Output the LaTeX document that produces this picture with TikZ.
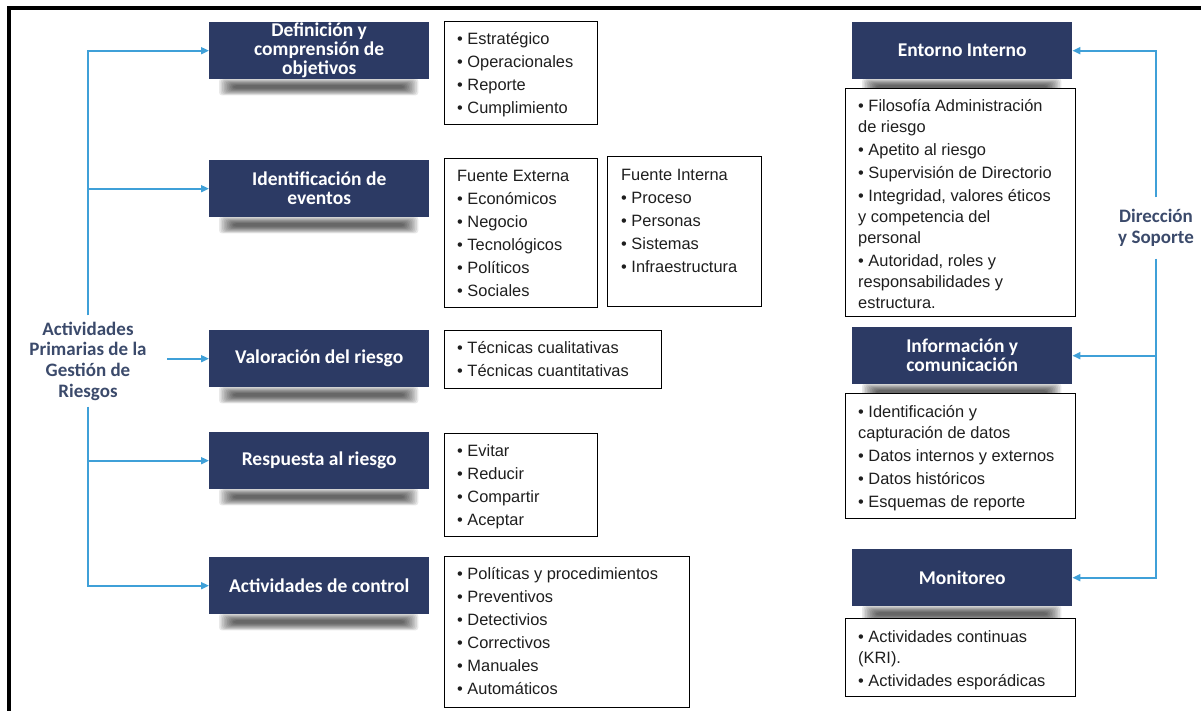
\documentclass[tikz,border=0pt]{standalone}
\usepackage{fontspec}
\setmainfont{Liberation Sans}
\newfontfamily\hdfont{Carlito}
\usetikzlibrary{arrows.meta,calc}
\pgfdeclarelayer{background}
\pgfsetlayers{background,main}
\definecolor{navy}{HTML}{2C3A64}
\definecolor{conn}{HTML}{3FA0D8}
\definecolor{labc}{HTML}{3B4A6B}
\definecolor{txt}{HTML}{1E1E1E}
\newcommand{\fstrut}{\rule{0pt}{15pt}}
\begin{document}
\begin{tikzpicture}[x=1pt,y=-1pt,
 hdr/.style={fill=navy, text=white, font=\hdfont\bfseries\fontsize{19.5}{19}\selectfont, align=center, minimum width=220pt, minimum height=57pt, inner sep=0pt, anchor=north west},
 lbox/.style={draw=black, line width=1.4pt, fill=white, anchor=north west, inner sep=0pt},
 ltxt/.style={anchor=north west, inner sep=0pt, align=left, text=txt, font=\fontsize{16.4}{23}\selectfont},
 rtxt/.style={anchor=north west, inner sep=0pt, align=left, text=txt, font=\fontsize{16.4}{21}\selectfont},
 lab/.style={text=labc, font=\hdfont\bfseries\fontsize{19}{20.7}\selectfont, align=center},
 arr/.style={draw=conn, line width=1.8pt, -{Triangle[length=8pt,width=7pt]}},
 frame/.style={draw=black, line width=4pt}
]
\useasboundingbox (0,0) rectangle (1201,711);
\draw[frame] (1201,8.5) -- (8.5,8.5) -- (8.5,711);

% dark header boxes
\node[hdr] (d1) at (209,22) {Definición y\\comprensión de\\objetivos};
\node[hdr] (d2) at (209,160) {Identificación de\\eventos};
\node[hdr] (d3) at (209,330) {Valoración del riesgo};
\node[hdr] (d4) at (209,432) {Respuesta al riesgo};
\node[hdr] (d5) at (209,557) {Actividades de control};
\node[hdr] (e1) at (852,22) {Entorno Interno};
\node[hdr] (e2) at (852,327) {Información y\\comunicación};
\node[hdr] (e3) at (852,549) {Monitoreo};

% soft shadows under the header boxes
\begin{pgfonlayer}{background}
\foreach \n in {d1,d2,d3,d4,d5,e1,e2,e3}{
 \foreach \k in {0,...,9}{
  \fill[black, opacity=0.085, rounded corners=3pt] ($(\n.south west)+(10+1.6*\k,-1+0.75*\k)$) rectangle ($(\n.south east)+(-11-1.6*\k,16-0.75*\k)$);
 }}
\end{pgfonlayer}

% list boxes
\node[lbox, minimum width=153pt, minimum height=103pt] (l1) at (444,21) {};
\node[lbox, minimum width=153pt, minimum height=149pt] (l2) at (444,158) {};
\node[lbox, minimum width=154pt, minimum height=150pt] (l2b) at (607,156) {};
\node[lbox, minimum width=217pt, minimum height=58pt] (l3) at (444,330) {};
\node[lbox, minimum width=153pt, minimum height=103pt] (l4) at (444,433) {};
\node[lbox, minimum width=245pt, minimum height=151pt] (l5) at (444,556) {};
\node[lbox, minimum width=230pt, minimum height=228pt] (r1) at (845,88) {};
\node[lbox, minimum width=230pt, minimum height=125pt] (r2) at (845,393) {};
\node[lbox, minimum width=230pt, minimum height=78pt] (r3) at (845,618) {};

% list texts
\node[ltxt] (t1) at ($(l1.north west)+(13,8)$) {\fstrut• Estratégico\\• Operacionales\\• Reporte\\• Cumplimiento};
\node[ltxt] (t2) at ($(l2.north west)+(13,8)$) {\fstrut Fuente Externa\\• Económicos\\• Negocio\\• Tecnológicos\\• Políticos\\• Sociales};
\node[ltxt] (t2b) at ($(l2b.north west)+(14,9)$) {\fstrut Fuente Interna\\• Proceso\\• Personas\\• Sistemas\\• Infraestructura};
\node[ltxt] (t3) at ($(l3.north west)+(13,8)$) {\fstrut• Técnicas cualitativas\\• Técnicas cuantitativas};
\node[ltxt] (t4) at ($(l4.north west)+(13,8)$) {\fstrut• Evitar\\• Reducir\\• Compartir\\• Aceptar};
\node[ltxt] (t5) at ($(l5.north west)+(13,8)$) {\fstrut• Políticas y procedimientos\\• Preventivos\\• Detectivios\\• Correctivos\\• Manuales\\• Automáticos};
\node[rtxt] (s1) at ($(r1.north west)+(13,8)$) {\fstrut• Filosofía Administración\\de riesgo\\[2pt]• Apetito al riesgo\\[2pt]• Supervisión de Directorio\\[2pt]• Integridad, valores éticos\\y competencia del\\personal\\[2pt]• Autoridad, roles y\\responsabilidades y\\estructura.};
\node[rtxt] (s2) at ($(r2.north west)+(13,9)$) {\fstrut• Identificación y\\capturación de datos\\[2pt]• Datos internos y externos\\[2pt]• Datos históricos\\[2pt]• Esquemas de reporte};
\node[rtxt] (s3) at ($(r3.north west)+(13,9)$) {\fstrut• Actividades continuas\\(KRI).\\[2pt]• Actividades esporádicas};

% labels
\node[lab, inner sep=6pt] (lab) at (88,361) {Actividades\\Primarias de la\\Gestión de\\Riesgos};
\node[lab, inner sep=12pt] (ds) at (1156,228) {Dirección\\y Soporte};

% connectors
\draw[arr] (lab.north) -- (lab.north |- d1.west) -- (d1.west);
\draw[arr] (lab.north |- d2.west) -- (d2.west);
\draw[arr, shorten <=14.5pt] (lab.east |- d3.west) -- (d3.west);
\draw[arr] (lab.south |- d4.west) -- (d4.west);
\draw[arr] (lab.south) -- (lab.south |- d5.west) -- (d5.west);
\draw[arr] (ds.north) -- (ds.north |- e1.east) -- (e1.east);
\draw[arr] (ds.south |- e2.east) -- (e2.east);
\draw[arr] (ds.south) -- (ds.south |- e3.east) -- (e3.east);
\end{tikzpicture}
\end{document}
